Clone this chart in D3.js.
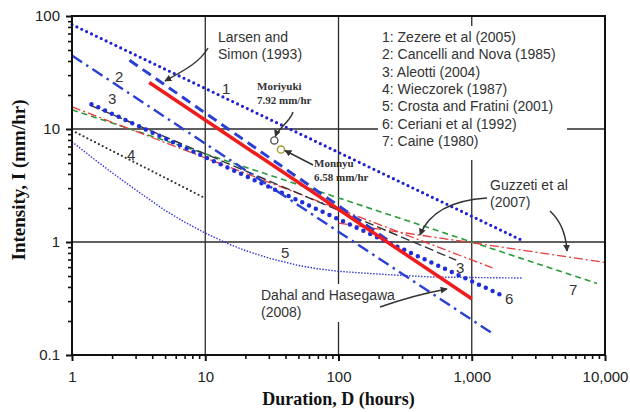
<!DOCTYPE html>
<html>
<head>
<meta charset="utf-8">
<script src="https://cdn.jsdelivr.net/npm/d3@7"></script>
<style>
  body { margin: 0; background: #fff; }
  svg { display: block; }
  text { font-family: "Liberation Sans", Arial, sans-serif; }
  .serif { font-family: "Liberation Serif", "Times New Roman", serif; font-weight: bold; }
</style>
</head>
<body>
<div id="chart"></div>
<script>
// tick values and labels
const xTicks = [1, 10, 100, 1000, 10000];
const xTickLabels = ["1", "10", "100", "1,000", "10,000"];
const yTicks = [0.1, 1, 10, 100];
const yTickLabels = ["0.1", "1", "10", "100"];

const legendLabels = [
    "1: Zezere et al (2005)",
    "2: Cancelli and Nova (1985)",
    "3: Aleotti (2004)",
    "4: Wieczorek (1987)",
    "5: Crosta and Fratini (2001)",
    "6: Ceriani et al (1992)",
    "7: Caine (1980)"
];

// thresholds, [duration (h), intensity (mm/hr)]
const zezere = [[1, 84], [2400, 1.03]];
const cancelliNova = [[1, 44.7], [1430, 0.155]];
const aleotti = [[1.36, 16.3], [765, 0.69]];
const wieczorek = [[1, 9.7], [9.6, 2.5]];
const crostaFratini = [[1, 7.7], [1.5, 5.3], [2, 4.1], [3, 2.9], [5, 1.9], [7, 1.5],
    [10, 1.2], [15, 0.96], [20, 0.84], [30, 0.72], [50, 0.62], [70, 0.58],
    [100, 0.55], [200, 0.52], [500, 0.49], [1000, 0.485], [2400, 0.48]];
const ceriani = [[1.4, 16.6], [1660, 0.34]];
const caine = [[1, 14.8], [8700, 0.43]];
const larsenSimon = [[2.7, 40.6], [240, 1.02]];
const guzzettiA = [[1, 15.7], [1430, 0.59]];
const guzzettiB = [[100, 1.47], [10000, 0.66]];
const dahalHasegawa = [[3.8, 25.8], [1000, 0.315]];

// landslide events
const eventNames = ["Moriyuki", "Monnyu"];
const eventDurations = [33, 37];
const eventIntensities = [7.92, 6.58];

const width = 630, height = 412;
const mLeft = 72, mRight = 605, mTop = 16, mBottom = 355;

const svg = d3.select("#chart").append("svg")
    .attr("width", width)
    .attr("height", height);

const x = d3.scaleLog().domain([1, 10000]).range([mLeft, mRight]);
const y = d3.scaleLog().domain([0.1, 100]).range([mBottom, mTop]);

const defs = svg.append("defs");
defs.append("marker")
    .attr("id", "arrow")
    .attr("viewBox", "0 0 10 10")
    .attr("refX", 9)
    .attr("refY", 5)
    .attr("markerWidth", 7)
    .attr("markerHeight", 7)
    .attr("markerUnits", "userSpaceOnUse")
    .attr("orient", "auto")
  .append("path")
    .attr("d", "M0,0 L10,5 L0,10 Z")
    .attr("fill", "#333");

// grid at the decades
svg.append("g")
  .selectAll("line")
  .data(xTicks.slice(1, -1))
  .enter().append("line")
    .attr("x1", d => x(d)).attr("x2", d => x(d))
    .attr("y1", mTop).attr("y2", mBottom)
    .attr("stroke", "#2a2a2a").attr("stroke-width", 1.3);

svg.append("g")
  .selectAll("line")
  .data(yTicks.slice(1, -1))
  .enter().append("line")
    .attr("x1", mLeft).attr("x2", mRight)
    .attr("y1", d => y(d)).attr("y2", d => y(d))
    .attr("stroke", "#2a2a2a").attr("stroke-width", 1.3);

// white boxes behind the legend and the Dahal label
svg.append("rect")
    .attr("x", 378).attr("y", 26).attr("width", 189).attr("height", 134)
    .attr("fill", "#fff");
svg.append("rect")
    .attr("x", 330).attr("y", 284).attr("width", 20).attr("height", 38)
    .attr("fill", "#fff");

// series
const line = d3.line().x(d => x(d[0])).y(d => y(d[1]));

const series = [
    { data: crostaFratini, color: "#2b2bd6", w: 1.4, dash: "1.4 1.6", cap: "butt" },
    { data: wieczorek, color: "#333", w: 2.2, dash: "0 4.3", cap: "round" },
    { data: caine, color: "#2a9a3a", w: 1.6, dash: "6 4", cap: "butt" },
    { data: guzzettiB, color: "#e63b3b", w: 1.3, dash: "9 3 2 3", cap: "butt" },
    { data: guzzettiA, color: "#e63b3b", w: 1.3, dash: "9 3 2 3", cap: "butt" },
    { data: aleotti, color: "#333", w: 1.4, dash: "9 4", cap: "butt" },
    { data: ceriani, color: "#1e2ed8", w: 4.5, dash: "0 7.5", cap: "round" },
    { data: cancelliNova, color: "#2a3fd4", w: 2.4, dash: "12 5 2.5 5", cap: "butt" },
    { data: larsenSimon, color: "#2a3fd4", w: 3, dash: "10 6", cap: "butt" },
    { data: zezere, color: "#2020d0", w: 3.2, dash: "0 5.4", cap: "round" },
    { data: dahalHasegawa, color: "#ee1c1c", w: 3.5, dash: null, cap: "butt" }
];

svg.append("g")
  .selectAll("path")
  .data(series)
  .enter().append("path")
    .attr("d", d => line(d.data))
    .attr("fill", "none")
    .attr("stroke", d => d.color)
    .attr("stroke-width", d => d.w)
    .attr("stroke-dasharray", d => d.dash)
    .attr("stroke-linecap", d => d.cap);

// event points
svg.append("g")
  .selectAll("circle")
  .data(eventNames)
  .enter().append("circle")
    .attr("cx", (d, i) => x(eventDurations[i]))
    .attr("cy", (d, i) => y(eventIntensities[i]))
    .attr("r", 3.6)
    .attr("fill", "#fff")
    .attr("stroke", (d, i) => i ? "#a09a30" : "#555")
    .attr("stroke-width", 1.4);

// frame and axes
svg.append("rect")
    .attr("x", mLeft).attr("y", mTop)
    .attr("width", mRight - mLeft).attr("height", mBottom - mTop)
    .attr("fill", "none").attr("stroke", "#111").attr("stroke-width", 2);

const minorX = x.ticks().filter(d => xTicks.indexOf(d) < 0);
const minorY = y.ticks().filter(d => yTicks.indexOf(d) < 0);

svg.append("g")
    .attr("transform", `translate(0,${mBottom})`)
    .call(d3.axisBottom(x).tickValues(minorX).tickSize(4).tickFormat(""))
    .call(g => g.select(".domain").remove())
    .call(g => g.selectAll("line").attr("stroke", "#111").attr("stroke-width", 1.6));

svg.append("g")
    .attr("transform", `translate(0,${mBottom})`)
    .call(d3.axisBottom(x).tickValues(xTicks).tickSize(6).tickPadding(10)
        .tickFormat((d, i) => xTickLabels[i]))
    .call(g => g.select(".domain").remove())
    .call(g => g.selectAll("line").attr("stroke", "#111").attr("stroke-width", 2))
    .call(g => g.selectAll("text").attr("font-size", 15).attr("fill", "#222")
        .attr("font-family", "Liberation Sans, Arial, sans-serif"));

svg.append("g")
    .attr("transform", `translate(${mLeft},0)`)
    .call(d3.axisLeft(y).tickValues(minorY).tickSize(4).tickFormat(""))
    .call(g => g.select(".domain").remove())
    .call(g => g.selectAll("line").attr("stroke", "#111").attr("stroke-width", 1.6));

svg.append("g")
    .attr("transform", `translate(${mLeft},0)`)
    .call(d3.axisLeft(y).tickValues(yTicks).tickSize(6).tickPadding(6)
        .tickFormat((d, i) => yTickLabels[i]))
    .call(g => g.select(".domain").remove())
    .call(g => g.selectAll("line").attr("stroke", "#111").attr("stroke-width", 2))
    .call(g => g.selectAll("text").attr("font-size", 15).attr("fill", "#222")
        .attr("font-family", "Liberation Sans, Arial, sans-serif"));

// axis titles
svg.append("text")
    .attr("class", "serif")
    .attr("x", (mLeft + mRight) / 2)
    .attr("y", 405)
    .attr("text-anchor", "middle")
    .attr("font-size", 18)
    .attr("fill", "#111")
    .text("Duration, D (hours)");

svg.append("text")
    .attr("class", "serif")
    .attr("transform", "translate(25,180) rotate(-90)")
    .attr("text-anchor", "middle")
    .attr("font-size", 19)
    .attr("fill", "#111")
    .text("Intensity, I (mm/hr)");

// legend
svg.append("g")
  .selectAll("text")
  .data(legendLabels)
  .enter().append("text")
    .attr("x", 382)
    .attr("y", (d, i) => 42 + i * 17.3)
    .attr("font-size", 14)
    .attr("fill", "#333")
    .text(d => d);

// series numbers
const numberLabels = [
    ["1", 222, 94], ["2", 115, 82], ["3", 108, 104], ["4", 127, 160],
    ["5", 281, 258], ["3", 456, 273], ["6", 505, 304], ["7", 569, 295]
];
svg.append("g")
  .selectAll("text")
  .data(numberLabels)
  .enter().append("text")
    .attr("x", d => d[1])
    .attr("y", d => d[2])
    .attr("font-size", 15)
    .attr("fill", "#333")
    .text(d => d[0]);

// annotations
const notes = [
    ["Larsen and", 218, 42], ["Simon (1993)", 218, 59],
    ["Guzzeti et al", 490, 190], ["(2007)", 490, 207],
    ["Dahal and Hasegawa", 261, 300], ["(2008)", 261, 317]
];
svg.append("g")
  .selectAll("text")
  .data(notes)
  .enter().append("text")
    .attr("x", d => d[1])
    .attr("y", d => d[2])
    .attr("font-size", 14)
    .attr("fill", "#333")
    .text(d => d[0]);

const eventNotes = [
    ["Moriyuki", 257, 90], ["7.92 mm/hr", 257, 104],
    ["Monnyu", 314, 167], ["6.58 mm/hr", 314, 181]
];
svg.append("g")
  .selectAll("text")
  .data(eventNotes)
  .enter().append("text")
    .attr("class", "serif")
    .attr("x", d => d[1])
    .attr("y", d => d[2])
    .attr("font-size", 11)
    .attr("fill", "#333")
    .text(d => d[0]);

const arrows = [
    "M208,48 C200,62 185,70 165,81",
    `M293,112 C290,122 ${x(eventDurations[0]) + 4},128 ${x(eventDurations[0]) + 1},${y(eventIntensities[0]) - 4}`,
    `M313,165 L${x(eventDurations[1]) + 4},${y(eventIntensities[1]) + 1}`,
    "M487,198 C455,200 430,210 420,235",
    "M550,211 C562,222 566,235 567,251",
    "M380,307 C400,300 425,293 447,289"
];
svg.append("g")
  .selectAll("path")
  .data(arrows)
  .enter().append("path")
    .attr("d", d => d)
    .attr("fill", "none")
    .attr("stroke", "#333")
    .attr("stroke-width", 1.5)
    .attr("marker-end", "url(#arrow)");
</script>
</body>
</html>
